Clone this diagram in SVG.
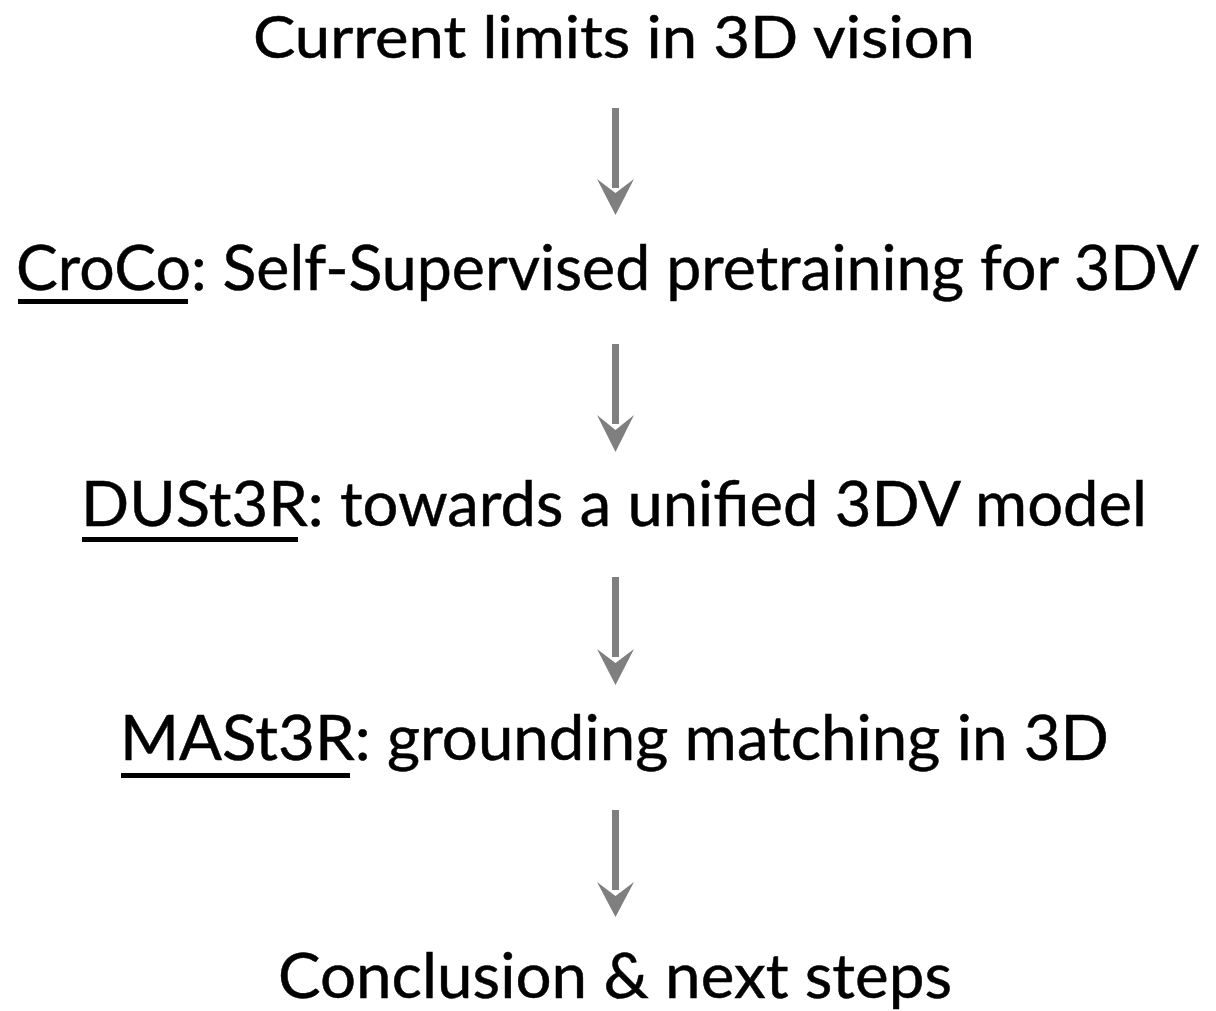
<svg xmlns="http://www.w3.org/2000/svg" width="1216" height="1011" viewBox="0 0 1216 1011">
<defs>
<style>
.t{font-family:Lato,"Open Sans","Liberation Sans",sans-serif;font-size:62px;fill:#000;stroke:#000;stroke-width:0.5px}
.u{fill:#000}
.a{fill:#7f7f7f}
</style>
</defs>
<rect width="1216" height="1011" fill="#fff"/>
<g id="connectors">
<g class="a">
<rect x="612" y="108" width="7" height="80"/>
<polygon points="615.5,215 597,179 615.5,193 634,179"/>
</g>
<g class="a">
<rect x="612" y="344" width="7" height="80"/>
<polygon points="615.5,452 597,415 615.5,430 634,415"/>
</g>
<g class="a">
<rect x="612" y="577" width="7" height="80"/>
<polygon points="615.5,685 597,649 615.5,663 634,649"/>
</g>
<g class="a">
<rect x="612" y="810" width="7" height="80"/>
<polygon points="615.5,917 597,882 615.5,896 634,882"/>
</g>
</g>
<g id="node1"><text class="t" x="253" y="58" style="font-size:59px" textLength="722" lengthAdjust="spacingAndGlyphs">Current limits in 3D vision</text></g>
<g id="node2"><text class="t" x="16" y="290" textLength="1183" lengthAdjust="spacingAndGlyphs">CroCo: Self-Supervised pretraining for 3DV</text><rect class="u" x="18" y="299" width="170" height="5"/></g>
<g id="node3"><text class="t" x="81" y="526" textLength="1066" lengthAdjust="spacingAndGlyphs">DUSt3R: towards a unified 3DV model</text><rect class="u" x="82" y="537" width="216" height="5"/></g>
<g id="node4"><text class="t" x="120" y="760" textLength="989" lengthAdjust="spacingAndGlyphs">MASt3R: grounding matching in 3D</text><rect class="u" x="121" y="773" width="229" height="5"/></g>
<g id="node5"><text class="t" x="278" y="998" textLength="674" lengthAdjust="spacingAndGlyphs">Conclusion &amp; next steps</text></g>
</svg>
